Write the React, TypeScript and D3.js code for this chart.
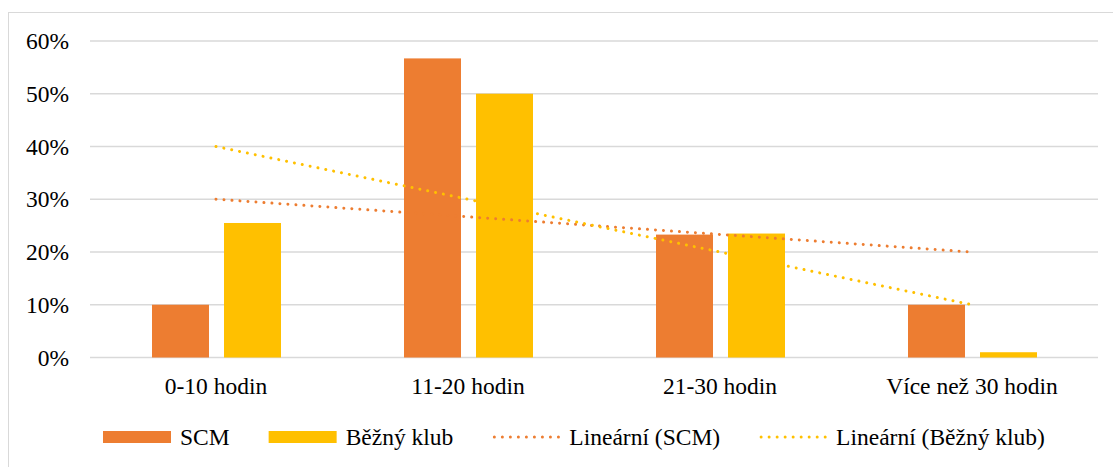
import React, { useEffect, useRef } from "react";
import * as d3 from "d3";

const categories = ["0-10 hodin", "11-20 hodin", "21-30 hodin", "Více než 30 hodin"];
const seriesNames = ["SCM", "Běžný klub"];
const scmValues = [0.1, 0.567, 0.233, 0.1];
const klubValues = [0.255, 0.5, 0.235, 0.01];
const yTicks = [0, 0.1, 0.2, 0.3, 0.4, 0.5, 0.6];
const trendNames = ["Lineární (SCM)", "Lineární (Běžný klub)"];
const colors = ["#ED7D31", "#FFC000"];

const W = 1113;
const H = 467;
const FONT = "Liberation Serif, Times New Roman, Times, serif";
const FS = 23.5;

function linearFit(vals: number[]) {
  const n = vals.length;
  const xs = vals.map((_, i) => i + 1);
  const mx = d3.mean(xs) as number;
  const my = d3.mean(vals) as number;
  let num = 0, den = 0;
  for (let i = 0; i < n; i++) {
    num += (xs[i] - mx) * (vals[i] - my);
    den += (xs[i] - mx) ** 2;
  }
  const slope = num / den;
  const intercept = my - slope * mx;
  return xs.map((x) => intercept + slope * x);
}

export default function App() {
  const ref = useRef<SVGSVGElement | null>(null);

  useEffect(() => {
    const svg = d3.select(ref.current);
    svg.selectAll("*").remove();

    const x0 = d3.scaleBand<string>().domain(categories).range([90, 1098]);
    const x1 = d3.scaleBand<string>().domain(seriesNames).range([62, 191]).paddingInner(15 / 72);
    const y = d3.scaleLinear().domain([0, 0.6]).range([357.5, 41]);

    svg.append("rect")
      .attr("x", 8.5).attr("y", 12.5).attr("width", 1110).attr("height", 500)
      .attr("fill", "#fff").attr("stroke", "#D9D9D9").attr("stroke-width", 1);

    svg.append("g").selectAll("line").data(yTicks).join("line")
      .attr("x1", 90).attr("x2", 1098)
      .attr("y1", (d) => y(d)).attr("y2", (d) => y(d))
      .attr("stroke", "#D9D9D9").attr("stroke-width", 1.5);

    svg.append("g").selectAll("text").data(yTicks).join("text")
      .attr("x", 69).attr("y", (d) => y(d) + 8)
      .attr("text-anchor", "end")
      .style("font-family", FONT).style("font-size", FS + "px").attr("fill", "#000")
      .text((d) => d3.format(".0%")(d));

    const seriesData = [scmValues, klubValues];
    seriesData.forEach((vals, si) => {
      svg.append("g").selectAll("rect").data(vals).join("rect")
        .attr("x", (_, i) => (x0(categories[i]) as number) + (x1(seriesNames[si]) as number))
        .attr("width", x1.bandwidth())
        .attr("y", (d) => y(d))
        .attr("height", (d) => y(0) - y(d))
        .attr("fill", colors[si]);
    });

    svg.append("g").selectAll("text").data(categories).join("text")
      .attr("x", (d) => (x0(d) as number) + x0.bandwidth() / 2)
      .attr("y", 394)
      .attr("text-anchor", "middle")
      .style("font-family", FONT).style("font-size", FS + "px").attr("fill", "#000")
      .text((d) => d);

    const line = d3.line<number>()
      .x((_, i) => (x0(categories[i]) as number) + x0.bandwidth() / 2)
      .y((d) => y(d));
    seriesData.forEach((vals, si) => {
      const fit = linearFit(vals);
      svg.append("path")
        .attr("d", line(fit) as string)
        .attr("fill", "none")
        .attr("stroke", colors[si])
        .attr("stroke-width", 3)
        .attr("stroke-linecap", "round")
        .attr("stroke-dasharray", "0.01 8");
    });

    const legendItems = [
      { label: seriesNames[0], color: colors[0], kind: "bar" },
      { label: seriesNames[1], color: colors[1], kind: "bar" },
      { label: trendNames[0], color: colors[0], kind: "line" },
      { label: trendNames[1], color: colors[1], kind: "line" },
    ];
    const lg = svg.append("g");
    let cx = 103;
    legendItems.forEach((it) => {
      if (it.kind === "bar") {
        lg.append("rect").attr("x", cx).attr("y", 431).attr("width", 68).attr("height", 12).attr("fill", it.color);
      } else {
        lg.append("line").attr("x1", cx + 2).attr("x2", cx + 68).attr("y1", 437).attr("y2", 437)
          .attr("stroke", it.color).attr("stroke-width", 3).attr("stroke-linecap", "round")
          .attr("stroke-dasharray", "0.01 8");
      }
      const t = lg.append("text").attr("x", cx + 77).attr("y", 445)
        .style("font-family", FONT).style("font-size", FS + "px").attr("fill", "#000").text(it.label);
      const w = (t.node() as SVGTextElement).getComputedTextLength();
      cx = cx + 77 + w + 39;
    });
  }, []);

  return (
    <svg
      ref={ref}
      width={W}
      height={H}
      style={{ position: "absolute", left: 0, top: 0, display: "block" }}
    />
  );
}
